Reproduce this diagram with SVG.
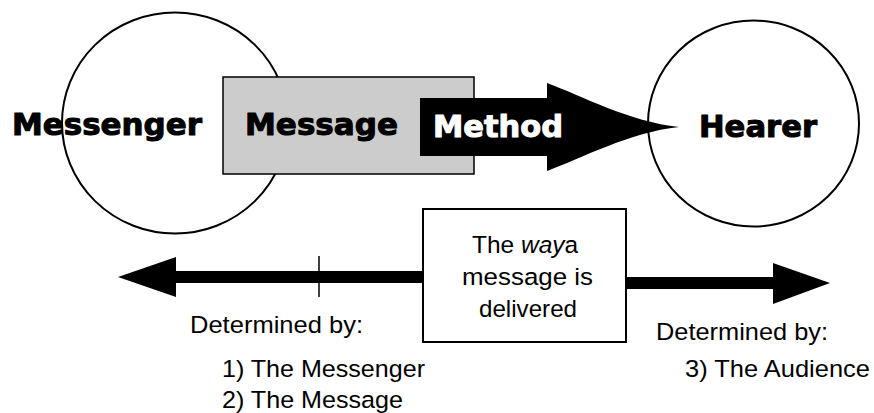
<svg xmlns="http://www.w3.org/2000/svg" width="874" height="413" viewBox="0 0 874 413">
  <style>
    .ring { fill: #ffffff; stroke: #000000; stroke-width: 2; }
    .big { font-family: "DejaVu Sans", "Liberation Sans", sans-serif; font-weight: bold; font-size: 30px; stroke-width: 1; stroke-linejoin: round; }
    .dark { fill: #000000; stroke: #000000; }
    .light { fill: #ffffff; stroke: #ffffff; }
    .small { font-family: "Liberation Sans", Arial, sans-serif; font-size: 24.5px; fill: #000000; }
    .shaft { stroke: #000000; stroke-width: 12; fill: none; }
    .head { fill: #000000; }
  </style>

  <rect x="0" y="0" width="874" height="413" fill="#ffffff"/>

  <!-- Messenger -->
  <g id="messenger">
    <ellipse class="ring" cx="175" cy="123" rx="113" ry="110.5"/>
  </g>

  <!-- Hearer -->
  <g id="hearer">
    <ellipse class="ring" cx="753.5" cy="123.5" rx="105.5" ry="103"/>
    <text class="big dark" x="699" y="137" textLength="118" lengthAdjust="spacingAndGlyphs">Hearer</text>
  </g>

  <!-- Message -->
  <g id="message">
    <rect x="223" y="77" width="251" height="97" fill="#cccccc" stroke="#000000" stroke-width="1.5"/>
    <text class="big dark" x="245" y="135" textLength="153" lengthAdjust="spacingAndGlyphs">Message</text>
  </g>

  <!-- Method: block arrow with tapering head -->
  <g id="method">
    <path d="M420,98 H547 V83 C580,95 630,122 679,127 C630,132 580,159 547,171 V156 H420 Z" fill="#000000"/>
    <text class="big light" x="433" y="137" textLength="130" lengthAdjust="spacingAndGlyphs">Method</text>
  </g>

  <!-- label drawn over the messenger ring -->
  <g id="messenger-label">
    <text class="big dark" x="12" y="135" textLength="190" lengthAdjust="spacingAndGlyphs">Messenger</text>
  </g>

  <!-- Connectors -->
  <g id="connectors">
    <line class="shaft" x1="423" y1="277" x2="170" y2="277"/>
    <polygon class="head" points="118,277 176,257 176,297"/>
    <line x1="319" y1="256" x2="319" y2="297" stroke="#000000" stroke-width="1.5"/>
    <line class="shaft" x1="626" y1="283" x2="778" y2="283"/>
    <polygon class="head" points="830,283 773,263 773,304"/>
  </g>

  <!-- The way a message is delivered -->
  <g id="way">
    <rect x="423" y="209" width="203" height="133" fill="#ffffff" stroke="#000000" stroke-width="2"/>
    <text class="small" x="472" y="253">The <tspan font-style="italic">way</tspan>a</text>
    <text class="small" x="462" y="285" textLength="131" lengthAdjust="spacingAndGlyphs">message is</text>
    <text class="small" x="479" y="317" textLength="98" lengthAdjust="spacingAndGlyphs">delivered</text>
  </g>

  <!-- Determined by (left) -->
  <g id="left-notes">
    <text class="small" x="190" y="333" textLength="173" lengthAdjust="spacingAndGlyphs">Determined by:</text>
    <text class="small" x="222" y="377" textLength="203" lengthAdjust="spacingAndGlyphs">1) The Messenger</text>
    <text class="small" x="222" y="408" textLength="181" lengthAdjust="spacingAndGlyphs">2) The Message</text>
  </g>

  <!-- Determined by (right) -->
  <g id="right-notes">
    <text class="small" x="656" y="340" textLength="172" lengthAdjust="spacingAndGlyphs">Determined by:</text>
    <text class="small" x="685" y="377" textLength="185" lengthAdjust="spacingAndGlyphs">3) The Audience</text>
  </g>
</svg>
